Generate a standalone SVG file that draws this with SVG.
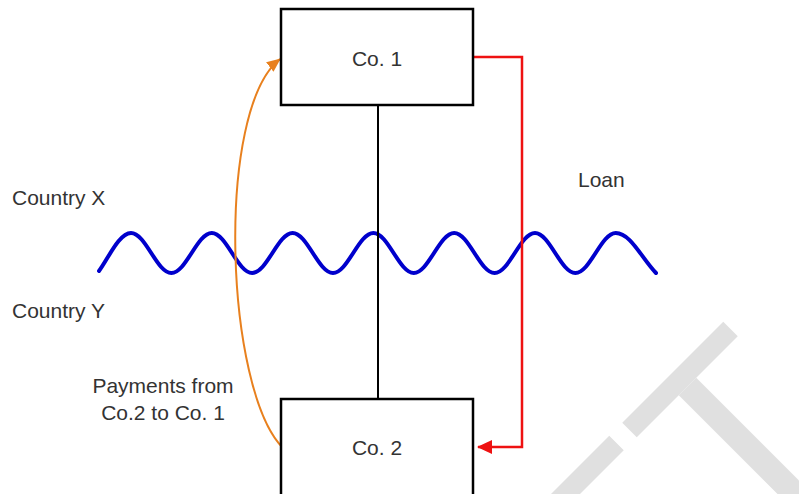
<svg xmlns="http://www.w3.org/2000/svg" width="799" height="494" viewBox="0 0 799 494">
<style>
text{font-family:"Liberation Sans",Arial,sans-serif;font-size:21px;fill:#333}
.box{fill:#fff;stroke:#000;stroke-width:2.5}
.wm{fill:#e0e0e0}
</style>
<defs>
<marker id="ahO" markerWidth="14" markerHeight="12" refX="13" refY="6" orient="auto" markerUnits="userSpaceOnUse">
<path d="M0,0 L14,6 L0,12 Z" fill="#e8801e"/>
</marker>
<marker id="ahR" markerWidth="15" markerHeight="14" refX="14" refY="7" orient="auto" markerUnits="userSpaceOnUse">
<path d="M0,0 L15,7 L0,14 Z" fill="#ee1111"/>
</marker>
</defs>
<rect width="799" height="494" fill="#fff"/>
<g id="watermark">
<polygon class="wm" points="723.25,321.75 737.75,336.25 636.75,437.25 622.25,422.75"/>
<polygon class="wm" points="609.25,435.75 623.75,450.25 487,587 472.5,572.5"/>
<polygon class="wm" points="678.75,395.25 696.25,377.75 859.25,540.75 841.75,558.25"/>
</g>
<g id="wave">
<path fill="none" stroke="#0000cc" stroke-width="4" stroke-linecap="round" d="M99,271 C108,259 119,233 131,233 C145.7,233 156.7,273 171.4,273 C186.1,273 197.1,233 211.8,233 C226.5,233 237.5,273 252.2,273 C266.9,273 277.9,233 292.6,233 C307.3,233 318.3,273 333,273 C347.7,273 358.7,233 373.4,233 C388.1,233 399.1,273 413.8,273 C428.5,273 439.5,233 454.2,233 C468.9,233 479.9,273 494.6,273 C509.3,273 520.3,233 535,233 C549.7,233 560.7,273 575.4,273 C590.1,273 601.1,233 615.8,233 C630.5,233 641.5,258 656,273"/>
</g>
<g id="connectors">
<line x1="378" y1="105" x2="378" y2="399" stroke="#000" stroke-width="2"/>
<path d="M473,57 H522 V447 H478" fill="none" stroke="#ee1111" stroke-width="2.5" marker-end="url(#ahR)"/>
<path d="M283,448 C225,390 215,110 280,59" fill="none" stroke="#e8801e" stroke-width="2" marker-end="url(#ahO)"/>
</g>
<g id="co1">
<rect class="box" x="281" y="9" width="192" height="96"/>
<text x="377" y="66" text-anchor="middle">Co. 1</text>
</g>
<g id="co2">
<rect class="box" x="281" y="399" width="192" height="110"/>
<text x="377" y="455" text-anchor="middle">Co. 2</text>
</g>
<g id="labels">
<text x="12" y="205">Country X</text>
<text x="12" y="318">Country Y</text>
<text x="578" y="187">Loan</text>
<text x="163" y="393" text-anchor="middle">Payments from</text>
<text x="163" y="420" text-anchor="middle">Co.2 to Co. 1</text>
</g>
</svg>
